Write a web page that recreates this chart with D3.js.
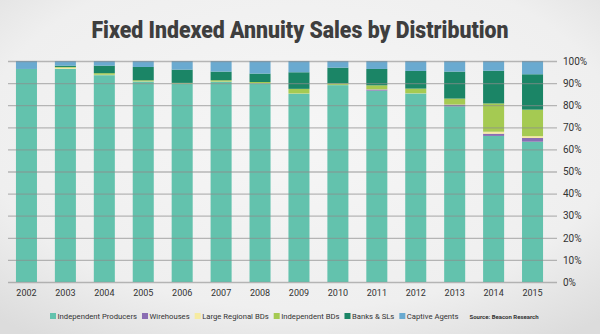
<!DOCTYPE html>
<meta charset="utf-8">
<style>
body { margin: 0; background: #f0f0f0; }
svg { display: block; }
text { font-family: Roboto, sans-serif; }
.tick text { fill: #333; font-size: 9.5px; }
</style>
<svg width="600" height="334"></svg>
<script src="https://cdn.jsdelivr.net/npm/d3@7"></script>
<script>

const years = ['2002','2003','2004','2005','2006','2007','2008','2009','2010','2011','2012','2013','2014','2015'];
const channels = ['Independent Producers','Wirehouses','Large Regional BDs','Independent BDs','Banks & SLs','Captive Agents'];
const colors = ['#63c2ad','#8a6db3','#f6eba2','#a5ca52','#1b8566','#6aaad0'];

// percent of sales per year
const independentProducers = [96.4, 96.5, 93.6, 90.6, 89.6, 90.6, 89.9, 85.2, 89.1, 86.6, 85.4, 79.5, 66.1, 63.5];
const wirehouses           = [0, 0, 0, 0, 0, 0, 0, 0, 0, 0.5, 0, 0.7, 1.0, 1.7];
const largeRegionalBDs     = [0, 0.5, 0.2, 0.1, 0.1, 0.1, 0.1, 0.1, 0.1, 0.1, 0.1, 0.1, 0.9, 0.8];
const independentBDs       = [0, 0.3, 0.7, 0.5, 0.3, 0.6, 0.5, 2.1, 0.7, 1.8, 2.1, 2.7, 12.8, 12.0];
const banksSLs             = [0, 0.6, 3.4, 6.0, 6.0, 3.9, 3.8, 7.5, 7.1, 7.4, 8.0, 12.2, 14.8, 16.0];
const captiveAgents        = [3.6, 2.1, 2.1, 2.7, 3.9, 4.8, 5.7, 5.1, 3.0, 3.6, 4.5, 4.8, 4.4, 6.0];

const yTicks = [0, 0.1, 0.2, 0.3, 0.4, 0.5, 0.6, 0.7, 0.8, 0.9, 1];

const series = [independentProducers, wirehouses, largeRegionalBDs, independentBDs, banksSLs, captiveAgents];
const rows = years.map((yr, i) => {
  const r = { year: yr };
  channels.forEach((c, j) => { r[c] = series[j][i]; });
  return r;
});

const svg = d3.select('svg');

// background with soft vignette
const defs = svg.append('defs');
const grad = defs.append('radialGradient').attr('id', 'bg')
  .attr('cx', '50%').attr('cy', '40%').attr('r', '75%');
grad.append('stop').attr('offset', '0%').attr('stop-color', '#f6f6f6');
grad.append('stop').attr('offset', '70%').attr('stop-color', '#efefef');
grad.append('stop').attr('offset', '100%').attr('stop-color', '#dcdcdc');
svg.append('rect').attr('width', 600).attr('height', 334).attr('fill', 'url(#bg)');

svg.append('text')
  .attr('x', 300).attr('y', 38)
  .attr('text-anchor', 'middle')
  .attr('font-size', 24).attr('font-weight', 900)
  .attr('fill', '#3e3e3e')
  .attr('textLength', 417).attr('lengthAdjust', 'spacingAndGlyphs')
  .text('Fixed Indexed Annuity Sales by Distribution');

const x = d3.scaleBand().domain(years).range([7, 552]).paddingInner(0.46).paddingOuter(0.23);
const y = d3.scaleLinear().domain([0, 1]).range([282, 61]);
const color = d3.scaleOrdinal().domain(channels).range(colors);

const stacked = d3.stack().keys(channels).offset(d3.stackOffsetExpand)(rows);

svg.append('g').selectAll('g')
  .data(stacked)
  .join('g')
    .attr('fill', d => color(d.key))
  .selectAll('rect')
  .data(d => d)
  .join('rect')
    .attr('x', d => x(d.data.year))
    .attr('width', x.bandwidth())
    .attr('y', d => y(d[1]))
    .attr('height', d => y(d[0]) - y(d[1]));

// gridlines + right-side labels
const yAxis = svg.append('g')
  .attr('transform', 'translate(557,0)')
  .call(d3.axisRight(y).tickValues(yTicks).tickFormat(d3.format('.0%')).tickSize(549).tickPadding(-543));
yAxis.select('.domain').remove();
yAxis.selectAll('.tick line')
  .attr('transform', 'translate(-549,0)')
  .attr('stroke', '#8c8c8c').attr('stroke-opacity', 0.6).attr('stroke-width', 1.3);
yAxis.selectAll('.tick text').attr('x', 6).attr('font-size', 10).style('font-size', '10px');

const xAxis = svg.append('g')
  .attr('transform', 'translate(0,282)')
  .call(d3.axisBottom(x).tickSize(0).tickPadding(8));
xAxis.select('.domain').remove();
xAxis.selectAll('.tick text').style('font-size', '9px');

// legend
const legend = svg.append('g').attr('transform', 'translate(50,316)');
let lx = 0;
channels.forEach((c, i) => {
  legend.append('rect').attr('x', lx).attr('y', -3).attr('width', 6).attr('height', 6).attr('fill', colors[i]);
  const t = legend.append('text').attr('x', lx + 7.5).attr('y', 3)
    .attr('font-size', 7.7).attr('fill', '#333').text(c);
  const w = t.node().getComputedTextLength();
  lx += 7.5 + w + 5;
});
legend.append('text').attr('x', lx + 6).attr('y', 2.5)
  .attr('font-size', 6).attr('font-weight', 700).attr('fill', '#333')
  .text('Source: Beacon Research');

</script>
